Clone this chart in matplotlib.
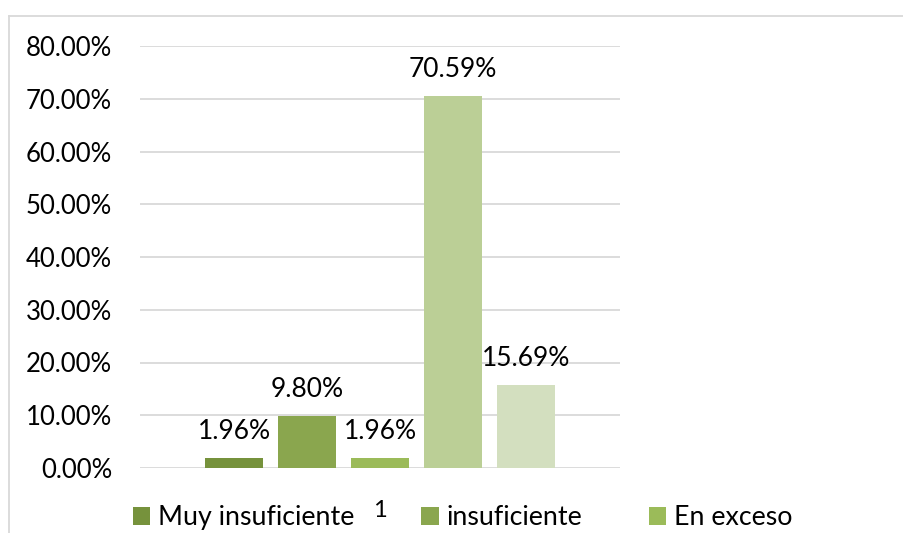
import matplotlib
matplotlib.use("Agg")
import matplotlib.pyplot as plt
from matplotlib.patches import Patch
from matplotlib.lines import Line2D
from matplotlib.ticker import FuncFormatter

categories = ["1"]
series_names = ["Muy insuficiente", "insuficiente", "En exceso", "Suficiente", "Muy suficiente"]
values = [0.0196, 0.0980, 0.0196, 0.7059, 0.1569]
colors = ["#76923C", "#8AA64E", "#9BBB59", "#BBCF96", "#D3DFBF"]
legend_shown = 3

FONT = "Lato"
plt.rcParams["font.family"] = [FONT, "DejaVu Sans"]

W, H = 904, 533
fig = plt.figure(figsize=(W / 100, H / 100), dpi=100)
ax = fig.add_axes([140 / W, 1 - 468 / H, 480 / W, (468 - 46) / H])

step = 0.152
width = 0.121
n = len(values)
for i, (name, v, c) in enumerate(zip(series_names, values, colors)):
    x = 1 + (i - (n - 1) / 2) * step
    ax.bar([x], [v], width=width, color=c, label=name, zorder=3)
    ax.annotate(f"{v * 100:.2f}%", (x, v), xytext=(0, 10), textcoords="offset points",
                ha="center", va="bottom", fontsize=19, color="#000000")

ax.set_xlim(0.5, 1.5)
ax.set_ylim(0, 0.8)
ax.set_yticks([i / 10 for i in range(9)])
ax.yaxis.set_major_formatter(FuncFormatter(lambda v, p: f"{v * 100:.2f}%"))
ax.set_xticks([1])
ax.set_xticklabels(categories)
ax.grid(axis="y", color="#D9D9D9", linewidth=1.3, zorder=0)
for s in ax.spines.values():
    s.set_visible(False)
ax.tick_params(axis="both", length=0, labelcolor="#000000")
ax.tick_params(axis="y", pad=20, labelsize=18.5)
ax.tick_params(axis="x", pad=23, labelsize=17)

# chart area border (partially cropped)
fig.add_artist(Line2D([8.5 / W, 8.5 / W], [0, 1 - 15.5 / H], color="#D9D9D9", linewidth=1.3))
fig.add_artist(Line2D([8.5 / W, 1], [1 - 15.5 / H, 1 - 15.5 / H], color="#D9D9D9", linewidth=1.3))

handles = [Patch(facecolor=colors[i], edgecolor="none") for i in range(legend_shown)]
fig.legend(handles, series_names[:legend_shown], loc="upper left",
           bbox_to_anchor=(133 / W, 1 - 505 / H), ncol=3, frameon=False,
           fontsize=19.3, handlelength=0.65, handleheight=0.65, handletextpad=0.28,
           columnspacing=2.5, borderpad=0, borderaxespad=0)

fig.savefig("out.png", dpi=100)
